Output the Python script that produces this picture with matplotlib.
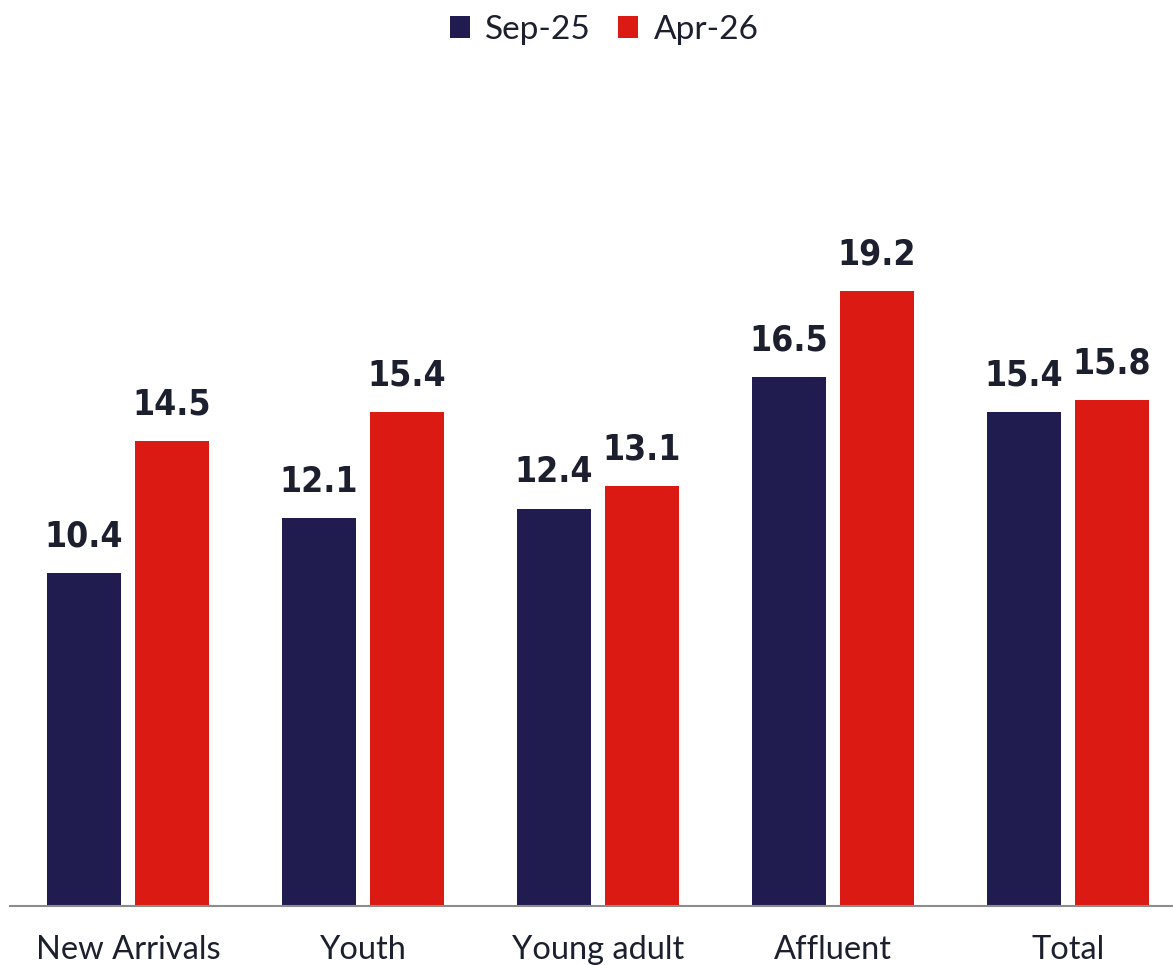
import matplotlib
matplotlib.use("Agg")
import matplotlib.pyplot as plt
import numpy as np
from matplotlib.patches import Patch
from matplotlib import font_manager as fm

categories = ["New Arrivals", "Youth", "Young adult", "Affluent", "Total"]
series_names = ["Sep-25", "Apr-26"]
sep25 = [10.4, 12.1, 12.4, 16.5, 15.4]
apr26 = [14.5, 15.4, 13.1, 19.2, 15.8]
colors = ["#211C4F", "#DB1A13"]
text_color = "#1B1F2E"

# pick a condensed bold font if available
cond_fp = None
for f in fm.fontManager.ttflist:
    name = f.fname.lower()
    if ("narrow" in name or "condensed" in name) and "bold" in name and "oblique" not in name and "italic" not in name:
        if "liberation" in name or "dejavusans" in name:
            cond_fp = fm.FontProperties(fname=f.fname, size=25.5)
            break
if cond_fp is None:
    cond_fp = fm.FontProperties(family="DejaVu Sans", weight="bold", stretch="condensed", size=25.5)

W, H = 1173, 965
fig = plt.figure(figsize=(W / 100, H / 100), dpi=100)
ax_left, ax_right = 10, 1173
ax_bottom, ax_top = 906, 106
ax = fig.add_axes([ax_left / W, (H - ax_bottom) / H, (ax_right - ax_left) / W, (ax_bottom - ax_top) / H])

x = np.arange(len(categories))
bw = 0.315
off = 0.187

for vals, sign, col in [(sep25, -1, colors[0]), (apr26, 1, colors[1])]:
    bars = ax.bar(x + sign * off, vals, width=bw, color=col, zorder=2)
    for b, v in zip(bars, vals):
        ax.annotate(f"{v:.1f}", (b.get_x() + b.get_width() / 2, v), xytext=(0, 14),
                    textcoords="offset points", ha="center", va="bottom",
                    fontproperties=cond_fp, color=text_color)

ax.set_xlim((ax_left - 128) / 235, (ax_right - 128) / 235)
ax.set_ylim(0, 800 / 32.05)
for s in ["top", "right", "left"]:
    ax.spines[s].set_visible(False)
ax.spines["bottom"].set_color("#8C8C8C")
ax.spines["bottom"].set_linewidth(1.5)
ax.set_yticks([])
ax.set_xticks(x)
ax.set_xticklabels(categories, family=["Lato", "DejaVu Sans"], fontsize=23.5, color=text_color)
ax.tick_params(axis="x", length=0, pad=21)

handles = [Patch(facecolor=c, edgecolor="none") for c in colors]
fig.legend(handles, series_names, loc="upper center", bbox_to_anchor=(0.515, 1.016), ncol=2,
           frameon=False, prop={"family": ["Lato", "DejaVu Sans"], "size": 24},
           labelcolor=text_color, handlelength=0.62, handleheight=0.62, handletextpad=0.45,
           columnspacing=0.8)

fig.savefig("out.png", dpi=100)
